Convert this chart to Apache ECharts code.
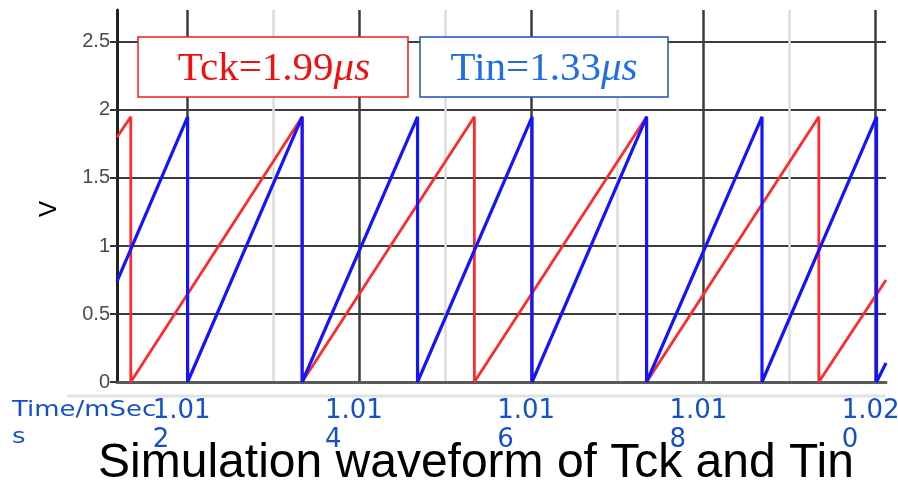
<!DOCTYPE html>
<html>
<head>
<meta charset="utf-8">
<script src="https://cdn.jsdelivr.net/npm/echarts@6/dist/echarts.min.js"></script>
<style>
  html, body { margin: 0; padding: 0; background: #fff; }
  #main { width: 898px; height: 483px; }
</style>
</head>
<body>
<div id="main"></div>
<script>
// time in mSec, voltage in V
var tckTime = [1.01119, 1.01135, 1.01135, 1.01334, 1.01334, 1.01534, 1.01534, 1.01734, 1.01734, 1.01934, 1.01934, 1.02012];
var tckV    = [1.80,    1.95,    0,       1.95,    0,       1.95,    0,       1.95,    0,       1.95,    0,       0.75];

var tinTime = [1.01119, 1.01201, 1.01201, 1.01334, 1.01334, 1.01468, 1.01468, 1.01601, 1.01601, 1.01734, 1.01734, 1.01868, 1.01868, 1.02001, 1.02001, 1.02012];
var tinV    = [0.74,    1.95,    0,       1.95,    0,       1.95,    0,       1.95,    0,       1.95,    0,       1.95,    0,       1.95,    0,       0.14];

var xLabels = [1.012, 1.014, 1.016, 1.018, 1.020];
// grid lines alternate dark (labelled) / light (in between)
var xGrid = [1.012, 1.013, 1.014, 1.015, 1.016, 1.017, 1.018, 1.019, 1.020];
var yTicks = [0, 0.5, 1, 1.5, 2, 2.5];

var xMin = 1.01119, xMax = 1.02012;

function pairs(xs, ys) {
    var out = [];
    for (var k = 0; k < xs.length; k++) out.push([xs[k], ys[k]]);
    return out;
}

var chart = echarts.init(document.getElementById('main'));
var option = {
    animation: false,
    backgroundColor: '#fff',
    grid: { left: 117, right: 12, top: 10, bottom: 101, containLabel: false, outerBoundsMode: 'none' },
    xAxis: {
        type: 'value',
        min: xMin,
        max: xMax,
        splitLine: { show: true, lineStyle: { color: ['#3c3c3c', '#dcdcdc'], width: 2.5 } },
        axisTick: { show: false, customValues: xGrid },
        axisLine: { lineStyle: { color: '#5a5a5a', width: 3 } },
        axisLabel: {
            customValues: xLabels,
            margin: 15,
            padding: [0, 10, 0, 0],
            color: '#1450c8',
            fontFamily: 'DejaVu Sans',
            fontSize: 26,
            lineHeight: 29,
            hideOverlap: false,
            formatter: function (v) {
                var s = v.toFixed(3);
                return '{a|' + s.slice(0, 4) + '}\n{a|' + s.slice(4) + '}';
            },
            rich: { a: { width: 58, align: 'left', fontSize: 26, lineHeight: 29, color: '#1450c8', fontFamily: 'DejaVu Sans' } }
        }
    },
    yAxis: {
        type: 'value',
        min: 0,
        max: 2.735,
        axisLine: { show: true, lineStyle: { color: '#222', width: 3 } },
        axisTick: { show: true, length: 7, customValues: yTicks, lineStyle: { color: '#333', width: 2 } },
        axisLabel: {
            customValues: yTicks,
            color: '#4a4a4a', fontSize: 20, fontFamily: 'Liberation Sans', margin: 7
        },
        splitLine: { lineStyle: { color: '#3c3c3c', width: 2 } }
    },
    series: [
        {
            name: 'Tck',
            type: 'line',
            data: pairs(tckTime, tckV),
            showSymbol: false,
            z: 3,
            lineStyle: { color: '#ff2b2b', width: 2.8 }
        },
        {
            name: 'Tin',
            type: 'line',
            data: pairs(tinTime, tinV),
            showSymbol: false,
            z: 4,
            lineStyle: { color: '#1414ff', width: 3.2 }
        }
    ],
    graphic: [
        // legend boxes
        { type: 'rect', shape: { x: 138, y: 37, width: 270, height: 60 }, style: { fill: '#fff', stroke: '#f01c1c', lineWidth: 1.5 }, z: 10 },
        { type: 'text', x: 274, y: 69, z: 11, style: {
            text: '{n|Tck=1.99}{i|μs}', align: 'center', verticalAlign: 'middle',
            rich: {
                n: { fontFamily: 'Liberation Serif', fontSize: 41, fill: '#f01010' },
                i: { fontFamily: 'Liberation Serif', fontSize: 41, fontStyle: 'italic', fill: '#f01010' }
            }
        } },
        { type: 'rect', shape: { x: 420, y: 37, width: 248, height: 60 }, style: { fill: '#fff', stroke: '#1c4fc4', lineWidth: 1.5 }, z: 10 },
        { type: 'text', x: 544, y: 69, z: 11, style: {
            text: '{n|Tin=1.33}{i|μs}', align: 'center', verticalAlign: 'middle',
            rich: {
                n: { fontFamily: 'Liberation Serif', fontSize: 41, fill: '#1e6ee6' },
                i: { fontFamily: 'Liberation Serif', fontSize: 41, fontStyle: 'italic', fill: '#1e6ee6' }
            }
        } },
        // axis names
        { type: 'text', x: 49, y: 209, rotation: Math.PI / 2, style: { text: 'V', fontFamily: 'Liberation Sans', fontSize: 24, fill: '#000', align: 'center', verticalAlign: 'middle' } },
        { type: 'text', x: 12, y: 397, scaleX: 1.18, style: { text: 'Time/mSec\ns', fontFamily: 'DejaVu Sans', fontSize: 22, lineHeight: 27, fill: '#1450c8' } },
        { type: 'line', shape: { x1: 67, y1: 396, x2: 886, y2: 396 }, style: { stroke: '#e2e2e2', lineWidth: 3 } },
        // caption
        { type: 'text', x: 476, y: 464, z: 20, style: { text: 'Simulation waveform of Tck and Tin', fontFamily: 'Liberation Sans', fontSize: 48, fill: '#000', align: 'center', verticalAlign: 'middle' } }
    ]
};
chart.setOption(option);
</script>
</body>
</html>
